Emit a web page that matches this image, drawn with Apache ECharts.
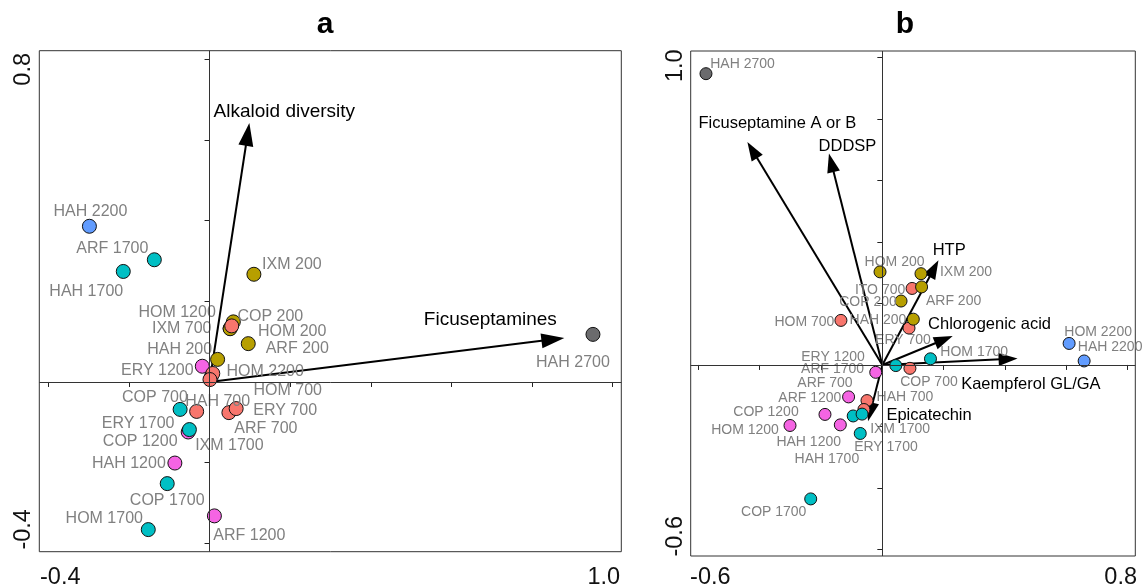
<!DOCTYPE html>
<html>
<head>
<meta charset="utf-8">
<script src="https://cdn.jsdelivr.net/npm/echarts@6/dist/echarts.min.js"></script>
<style>
html,body{margin:0;padding:0;background:#fff}
#chart{width:1142px;height:588px}
</style>
</head>
<body>
<div id="chart"></div>
<script>
// ---- panel a : sites (scores) ----
var aSite = ['HOM','HOM','COP','COP','HOM','IXM','ARF','HAH','ERY','HOM','COP','ERY','HAH','ARF','ERY','IXM','HAH','COP','ARF','HOM','HAH','ARF','HAH','IXM','HAH'];
var aAlt  = [2200,1200,1200,200,200,700,200,200,1200,700,700,1700,700,700,700,1700,1200,1700,1200,1700,2200,1700,1700,200,2700];
var aX    = [0.004,0.051,-0.053,0.059,0.051,0.055,0.096,0.020,-0.018,0.008,0.001,-0.073,-0.032,0.048,0.066,-0.050,-0.086,-0.105,0.012,-0.152,-0.298,-0.137,-0.214,0.110,0.951];
var aY    = [0.012,0.133,-0.124,0.149,0.132,0.139,0.095,0.056,0.039,0.021,0.006,-0.068,-0.073,-0.076,-0.066,-0.118,-0.201,-0.252,-0.332,-0.366,0.386,0.303,0.274,0.267,0.118];
// ---- panel a : variables (arrow tips) ----
var aVar  = ['Alkaloid diversity','Ficuseptamines'];
var aVarX = [0.0987,0.880];
var aVarY = [0.642,0.109];
// ---- panel b : sites ----
var bSite = ['HOM','IXM','ITO','ARF','COP','HOM','ERY','HAH','COP','HOM','ARF','ERY','HOM','HAH','HAH','ARF','ARF','HAH','IXM','COP','HAH','HOM','ERY','COP','HAH'];
var bAlt  = [200,200,700,200,200,700,700,200,700,1700,1700,1200,2200,2200,700,700,1200,1700,1700,1200,1200,1200,1700,1700,2700];
var bX    = [-0.0075,0.126,0.097,0.128,0.061,-0.135,0.087,0.101,0.090,0.157,0.044,-0.0215,0.609,0.658,-0.050,-0.060,-0.110,-0.095,-0.066,-0.187,-0.137,-0.301,-0.072,-0.2335,-0.575];
var bY    = [0.303,0.297,0.249,0.254,0.208,0.145,0.120,0.149,-0.011,0.020,-0.002,-0.024,0.070,0.013,-0.116,-0.145,-0.104,-0.166,-0.160,-0.161,-0.195,-0.197,-0.223,-0.436,0.948];
// ---- panel b : variables ----
var bVar  = ['Ficuseptamine A or B','DDDSP','HTP','Chlorogenic acid','Kaempferol GL/GA','Epicatechin'];
var bVarX = [-0.440,-0.174,0.183,0.2295,0.441,-0.0466];
var bVarY = [0.726,0.688,0.341,0.094,0.021,-0.183];
// ---- ticks ----
var aXTicks = [-0.4,-0.2,0,0.2,0.4,0.6,0.8,1.0];
var aYTicks = [-0.4,-0.2,0,0.2,0.4,0.6,0.8];
var bXTicks = [-0.6,-0.4,-0.2,0,0.2,0.4,0.6,0.8];
var bYTicks = [-0.6,-0.4,-0.2,0,0.2,0.4,0.6,0.8,1.0];
var aXLabels = [-0.4,1.0], aYLabels = [-0.4,0.8];
var bXLabels = [-0.6,0.8], bYLabels = [-0.6,1.0];

// label placement (pixel offsets), kept apart from the data
var aSiteOff = [[54,-6],[-53,-16],[-48,10],[37,-5],[62,3],[-50,3],[49,5],[-38,-10],[-45,4],[75,17],[-55,18],[-42,14],[21,-10],[37,16],[49,2],[40,16],[-46,1],[0,17],[35,20],[-44,-11],[1,-15],[-42,-11],[-37,20],[38,-10],[-20,28]];
var bSiteOff = [[14.5,-9.7],[45,-1.3],[-32,1.7],[32,14],[-33,1],[-36.5,1.7],[-6,12.3],[-35.3,1],[19,14],[43.7,-6.7],[-63.2,3.7],[-42.7,-15.3],[29,-11.6],[26,-13.4],[38,-3.6],[-39,-26],[-38.7,1.3],[-26.3,43.6],[38,15],[-59,-2.6],[-31.6,17.6],[-45,4.7],[25.7,14],[-37,13.6],[36.5,-9.3]];
var aVarOff = [[35,-11],[-74,-18]];
var bVarOff = [[30,-18],[18.5,-7.6],[10.7,-9.3],[36.8,-11.4],[13.3,26],[61,-6]];

var altColors = {200:'#B79F00',700:'#F8766D',1200:'#F564E3',1700:'#00BFC4',2200:'#619CFF',2700:'#6B6B6D'};
var FONT = '"Liberation Sans", Arial, sans-serif';

function pointData(site,alt,xs,ys,offs){
	var out=[];
	for(var i=0;i<site.length;i++){
		out.push({name:site[i]+' '+alt[i],value:[xs[i],ys[i]],
			itemStyle:{color:altColors[alt[i]]},label:{offset:offs[i]}});
	}
	return out;
}

function arrowSeries(gi,names,xs,ys,offs,headLen,headW,fontSize){
	var data=[];
	for(var i=0;i<names.length;i++){ data.push([xs[i],ys[i]]); }
	return {
		type:'custom',xAxisIndex:gi,yAxisIndex:gi,z:2,data:data,encode:{x:0,y:1},silent:true,
		renderItem:function(params,api){
			var i=params.dataIndex;
			var o=api.coord([0,0]);
			var t=api.coord([api.value(0),api.value(1)]);
			var dx=t[0]-o[0],dy=t[1]-o[1],len=Math.sqrt(dx*dx+dy*dy);
			var ux=dx/len,uy=dy/len;
			var bx=t[0]-ux*headLen,by=t[1]-uy*headLen;
			var px=-uy*headW/2,py=ux*headW/2;
			return {type:'group',children:[
				{type:'line',shape:{x1:o[0],y1:o[1],x2:bx+ux*2,y2:by+uy*2},style:{stroke:'#000',lineWidth:2}},
				{type:'polygon',shape:{points:[[t[0],t[1]],[bx+px,by+py],[bx-px,by-py]]},style:{fill:'#000'}},
				{type:'text',x:t[0]+offs[i][0],y:t[1]+offs[i][1],
					style:{text:names[i],align:'center',verticalAlign:'middle',fill:'#000',
						font:fontSize+'px '+FONT}}
			]};
		},
		markLine:{silent:true,symbol:'none',animation:false,label:{show:false},
			lineStyle:{color:'#333',width:1,type:'solid'},emphasis:{disabled:true},
			data:[{xAxis:0},{yAxis:0}]}
	};
}

function richFmt(v){ return (v<0?'{lo|':'{hi|')+v.toFixed(1)+'}'; }

function axisCfg(gi,min,max,ticks,labels,margin,rotate,padLo,padHi){
	return {
		gridIndex:gi,type:'value',min:min,max:max,
		axisLine:{show:false},splitLine:{show:false},
		axisTick:{show:true,inside:false,length:5,customValues:ticks,lineStyle:{color:'#222',width:1}},
		axisLabel:{customValues:labels,margin:margin,rotate:rotate,fontSize:23.5,fontFamily:FONT,color:'#111',
			formatter:richFmt,
			rich:{
				lo:{fontSize:23.5,fontFamily:FONT,color:'#111',padding:padLo},
				hi:{fontSize:23.5,fontFamily:FONT,color:'#111',padding:padHi}
			}}
	};
}

var myChart = echarts.init(document.getElementById('chart'));
var option = {
	animation:false,
	backgroundColor:'#fff',
	grid:[
		{left:39.3,top:50.7,width:582,height:501,show:true,borderColor:'#333',borderWidth:1,outerBoundsMode:'none'},
		{left:690.7,top:51,width:444.6,height:505,show:true,borderColor:'#333',borderWidth:1,outerBoundsMode:'none'}
	],
	xAxis:[
		axisCfg(0,-0.4223,1.0213,aXTicks,aXLabels,14,0,[0,0,0,24],[0,18,0,0]),
		axisCfg(1,-0.6248,0.8248,bXTicks,bXLabels,10,0,[0,0,0,24],[0,14,0,0])
	],
	yAxis:[
		axisCfg(0,-0.4208,0.8213,aYTicks,aYLabels,4,90,[0,0,0,28],[0,20,0,0]),
		axisCfg(1,-0.6218,1.0218,bYTicks,bYLabels,3,90,[0,0,0,26],[0,16,0,0])
	],
	graphic:[
		{type:'text',x:325,y:25,style:{text:'a',align:'center',verticalAlign:'middle',font:'bold 30px '+FONT,fill:'#000'}},
		{type:'text',x:905,y:25,style:{text:'b',align:'center',verticalAlign:'middle',font:'bold 30px '+FONT,fill:'#000'}}
	],
	series:[
		arrowSeries(0,aVar,aVarX,aVarY,aVarOff,23,15,19),
		arrowSeries(1,bVar,bVarX,bVarY,bVarOff,19,13,16.5),
		{
			type:'scatter',xAxisIndex:0,yAxisIndex:0,z:3,symbolSize:14,
			data:pointData(aSite,aAlt,aX,aY,aSiteOff),
			itemStyle:{borderColor:'#111',borderWidth:1,opacity:1},
			label:{show:true,position:'inside',formatter:'{b}',color:'#808080',fontSize:16,fontFamily:FONT},
			emphasis:{disabled:true}
		},
		{
			type:'scatter',xAxisIndex:1,yAxisIndex:1,z:3,symbolSize:12,
			data:pointData(bSite,bAlt,bX,bY,bSiteOff),
			itemStyle:{borderColor:'#111',borderWidth:1,opacity:1},
			label:{show:true,position:'inside',formatter:'{b}',color:'#808080',fontSize:14,fontFamily:FONT},
			emphasis:{disabled:true}
		}
	]
};
myChart.setOption(option);
</script>
</body>
</html>
